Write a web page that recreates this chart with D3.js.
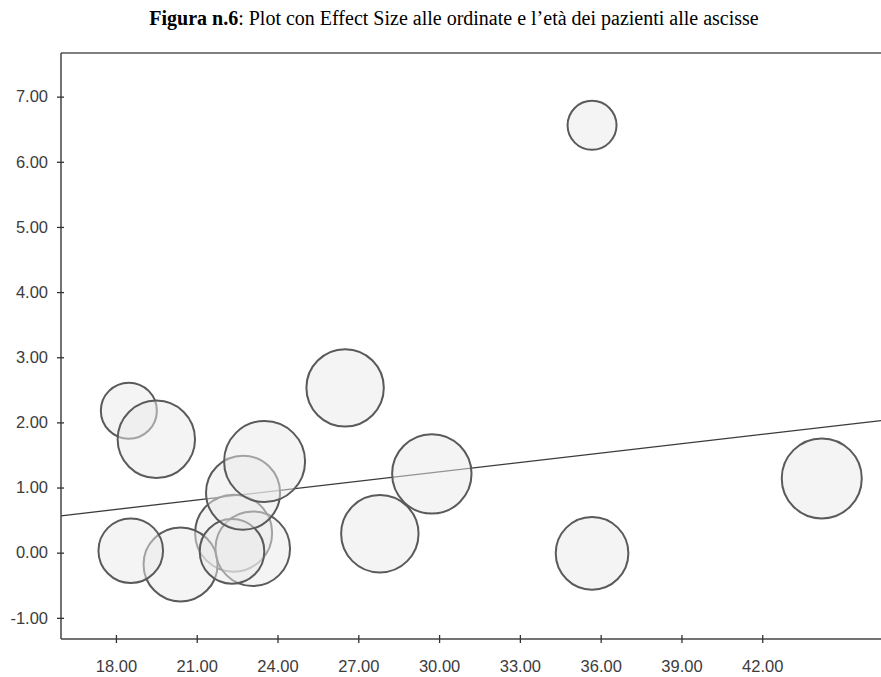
<!DOCTYPE html>
<html>
<head>
<meta charset="utf-8">
<script src="https://cdn.jsdelivr.net/npm/d3@7"></script>
<style>
  html, body { margin: 0; padding: 0; background: #fff; }
  svg { display: block; }
</style>
</head>
<body>
<svg id="chart" width="881" height="677"></svg>
<script>
// ---- data ----
const ages        = [18.48, 19.50, 22.37, 20.40, 18.55, 23.08, 22.31, 22.72, 23.52, 26.51, 27.80, 29.73, 35.68, 35.68, 44.21];
const effectSizes = [ 2.18,  1.74,  0.30, -0.18,  0.03,  0.06,  0.02,  0.92,  1.40,  2.53,  0.29,  1.21,  6.56, -0.01,  1.14];
const weights     = [ 3.98,  7.60,  7.52,  6.95,  5.29,  7.06,  5.29,  6.95,  8.32,  7.60,  7.60,  8.00,  3.04,  6.69,  8.12];
const xTicks = [18, 21, 24, 27, 30, 33, 36, 39, 42];
const yTicks = [-1, 0, 1, 2, 3, 4, 5, 6, 7];
const regIntercept = -0.20;
const regSlope = 0.0480;
const xDomain = [15.96, 46.41];
const yDomain = [-1.325, 7.67];

(function () {
const svg = d3.select("#chart");
const mLeft = 61, mRight = 881, mTop = 53, mBottom = 639;

const x = d3.scaleLinear().domain(xDomain).range([mLeft, mRight]);
const y = d3.scaleLinear().domain(yDomain).range([mBottom, mTop]);
const r = d3.scaleSqrt().domain([0, d3.max(weights)]).range([0, 40.5]);
const fmt = d => d.toFixed(2);

// title
const title = svg.append("text")
  .attr("x", 454).attr("y", 25)
  .attr("text-anchor", "middle")
  .style("font-family", "'Liberation Serif', 'Times New Roman', serif")
  .style("font-size", "20px")
  .attr("fill", "#000");
title.append("tspan").style("font-weight", "bold").text("Figura n.6");
title.append("tspan").text(": Plot con Effect Size alle ordinate e l\u2019età dei pazienti alle ascisse");

// regression line (drawn beneath bubbles)
const xs = x.domain();
svg.append("line")
  .attr("x1", x(xs[0])).attr("y1", y(regIntercept + regSlope * xs[0]))
  .attr("x2", x(xs[1])).attr("y2", y(regIntercept + regSlope * xs[1]))
  .attr("stroke", "#3a3a3a").attr("stroke-width", 1.3);

// bubbles
const pts = ages.map((a, i) => ({ a, e: effectSizes[i], w: weights[i] }));
svg.append("g").selectAll("circle").data(pts).join("circle")
  .attr("cx", d => x(d.a))
  .attr("cy", d => y(d.e))
  .attr("r", d => r(d.w))
  .attr("fill", "#e9e9e9")
  .attr("fill-opacity", 0.5)
  .attr("stroke", "#5a5a5a")
  .attr("stroke-width", 2);

// frame top
svg.append("line")
  .attr("x1", mLeft).attr("x2", mRight).attr("y1", mTop).attr("y2", mTop)
  .attr("stroke", "#555").attr("stroke-width", 1.5);

const fontCss = "'Liberation Sans', Arial, sans-serif";

// y axis
const gy = svg.append("g").attr("transform", `translate(${mLeft},0)`)
  .call(d3.axisLeft(y).tickValues(yTicks).tickFormat(fmt)
    .tickSizeInner(0).tickSizeOuter(0).tickPadding(13));
gy.select(".domain").attr("stroke", "#444").attr("stroke-width", 1.5)
  .attr("d", `M0,${mTop}V${mBottom}`);
gy.selectAll(".tick line").attr("x1", -4).attr("x2", 3).attr("stroke", "#333").attr("stroke-width", 1.3);
gy.selectAll(".tick text").style("font-family", fontCss).style("font-size", "16.5px").attr("fill", "#3c3c3c");

// x axis
const gx = svg.append("g").attr("transform", `translate(0,${mBottom})`)
  .call(d3.axisBottom(x).tickValues(xTicks).tickFormat(fmt)
    .tickSizeInner(0).tickSizeOuter(0).tickPadding(21));
gx.select(".domain").attr("stroke", "#444").attr("stroke-width", 1.5)
  .attr("d", `M${mLeft},0H${mRight}`);
gx.selectAll(".tick line").attr("y1", -4).attr("y2", 4).attr("stroke", "#333").attr("stroke-width", 1.3);
gx.selectAll(".tick text").style("font-family", fontCss).style("font-size", "16.5px").attr("fill", "#3c3c3c");
})();
</script>
</body>
</html>
